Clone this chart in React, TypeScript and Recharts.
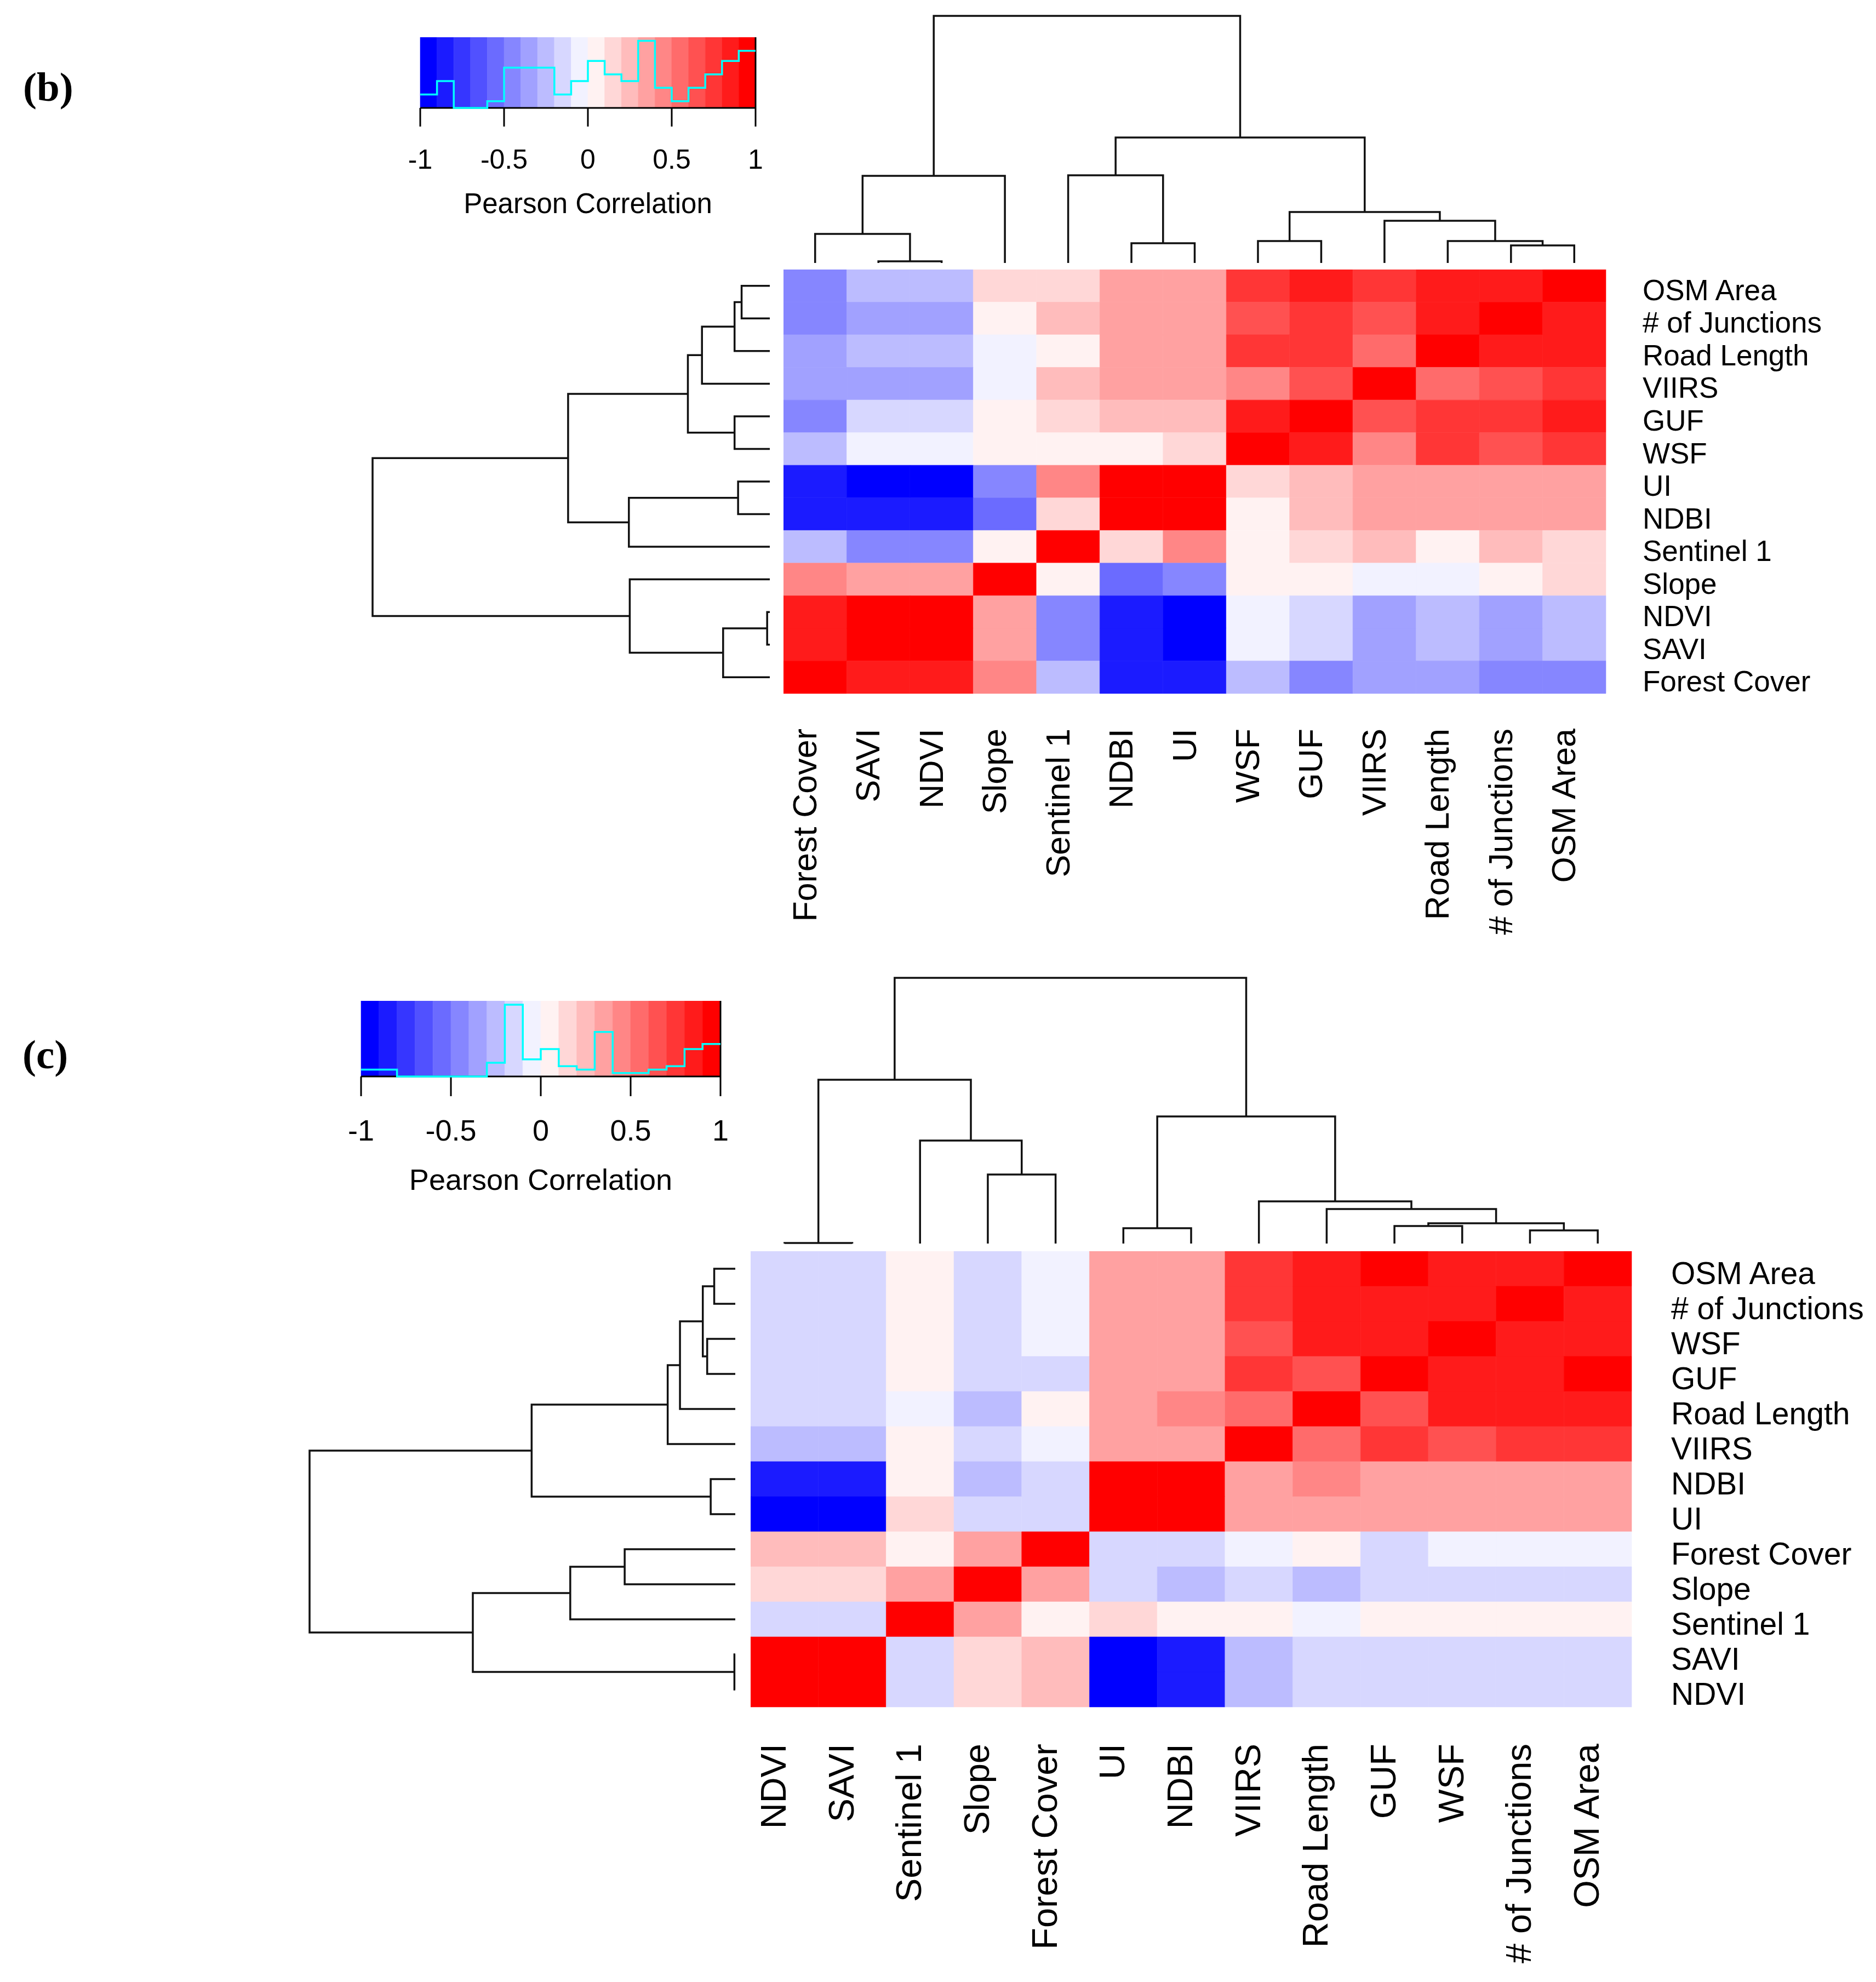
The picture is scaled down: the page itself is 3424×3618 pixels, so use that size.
import React from "react";
import { ScatterChart, Scatter, XAxis, YAxis, ReferenceArea, ReferenceLine } from "recharts";

// ---------- panel (b) ----------
const B_COLS = ["Forest Cover", "SAVI", "NDVI", "Slope", "Sentinel 1", "NDBI", "UI", "WSF", "GUF", "VIIRS", "Road Length", "# of Junctions", "OSM Area"];
const B_ROWS = ["OSM Area", "# of Junctions", "Road Length", "VIIRS", "GUF", "WSF", "UI", "NDBI", "Sentinel 1", "Slope", "NDVI", "SAVI", "Forest Cover"];
const B_VALUES = [
  [-0.45, -0.25, -0.25, 0.15, 0.15, 0.35, 0.35, 0.75, 0.85, 0.75, 0.85, 0.85, 0.95],
  [-0.45, -0.35, -0.35, 0.05, 0.25, 0.35, 0.35, 0.65, 0.75, 0.65, 0.85, 0.95, 0.85],
  [-0.35, -0.25, -0.25, -0.05, 0.05, 0.35, 0.35, 0.75, 0.75, 0.55, 0.95, 0.85, 0.85],
  [-0.35, -0.35, -0.35, -0.05, 0.25, 0.35, 0.35, 0.45, 0.65, 0.95, 0.55, 0.65, 0.75],
  [-0.45, -0.15, -0.15, 0.05, 0.15, 0.25, 0.25, 0.85, 0.95, 0.65, 0.75, 0.75, 0.85],
  [-0.25, -0.05, -0.05, 0.05, 0.05, 0.05, 0.15, 0.95, 0.85, 0.45, 0.75, 0.65, 0.75],
  [-0.85, -0.95, -0.95, -0.45, 0.45, 0.95, 0.95, 0.15, 0.25, 0.35, 0.35, 0.35, 0.35],
  [-0.85, -0.85, -0.85, -0.55, 0.15, 0.95, 0.95, 0.05, 0.25, 0.35, 0.35, 0.35, 0.35],
  [-0.25, -0.45, -0.45, 0.05, 0.95, 0.15, 0.45, 0.05, 0.15, 0.25, 0.05, 0.25, 0.15],
  [0.45, 0.35, 0.35, 0.95, 0.05, -0.55, -0.45, 0.05, 0.05, -0.05, -0.05, 0.05, 0.15],
  [0.85, 0.95, 0.95, 0.35, -0.45, -0.85, -0.95, -0.05, -0.15, -0.35, -0.25, -0.35, -0.25],
  [0.85, 0.95, 0.95, 0.35, -0.45, -0.85, -0.95, -0.05, -0.15, -0.35, -0.25, -0.35, -0.25],
  [0.95, 0.85, 0.85, 0.45, -0.25, -0.85, -0.85, -0.25, -0.45, -0.35, -0.35, -0.45, -0.45],
];
// hclust-like merges: a leaf is a label, a number refers to an earlier merge
const B_MERGES = [
  { a: "SAVI", b: "NDVI", h: 0.03 },
  { a: "Forest Cover", b: 0, h: 0.53 },
  { a: 1, b: "Slope", h: 1.59 },
  { a: "NDBI", b: "UI", h: 0.36 },
  { a: "Sentinel 1", b: 3, h: 1.6 },
  { a: "WSF", b: "GUF", h: 0.4 },
  { a: "# of Junctions", b: "OSM Area", h: 0.32 },
  { a: "Road Length", b: 6, h: 0.4 },
  { a: "VIIRS", b: 7, h: 0.77 },
  { a: 5, b: 8, h: 0.93 },
  { a: 4, b: 9, h: 2.29 },
  { a: 2, b: 10, h: 4.51 },
];
const B_HIST = [4, 8, 0, 0, 2, 12, 12, 12, 4, 8, 14, 10, 8, 20, 6, 2, 6, 10, 14, 17];

// ---------- panel (c) ----------
const C_COLS = ["NDVI", "SAVI", "Sentinel 1", "Slope", "Forest Cover", "UI", "NDBI", "VIIRS", "Road Length", "GUF", "WSF", "# of Junctions", "OSM Area"];
const C_ROWS = ["OSM Area", "# of Junctions", "WSF", "GUF", "Road Length", "VIIRS", "NDBI", "UI", "Forest Cover", "Slope", "Sentinel 1", "SAVI", "NDVI"];
const C_VALUES = [
  [-0.15, -0.15, 0.05, -0.15, -0.05, 0.35, 0.35, 0.75, 0.85, 0.95, 0.85, 0.85, 0.95],
  [-0.15, -0.15, 0.05, -0.15, -0.05, 0.35, 0.35, 0.75, 0.85, 0.85, 0.85, 0.95, 0.85],
  [-0.15, -0.15, 0.05, -0.15, -0.05, 0.35, 0.35, 0.65, 0.85, 0.85, 0.95, 0.85, 0.85],
  [-0.15, -0.15, 0.05, -0.15, -0.15, 0.35, 0.35, 0.75, 0.65, 0.95, 0.85, 0.85, 0.95],
  [-0.15, -0.15, -0.05, -0.25, 0.05, 0.35, 0.45, 0.55, 0.95, 0.65, 0.85, 0.85, 0.85],
  [-0.25, -0.25, 0.05, -0.15, -0.05, 0.35, 0.35, 0.95, 0.55, 0.75, 0.65, 0.75, 0.75],
  [-0.85, -0.85, 0.05, -0.25, -0.15, 0.95, 0.95, 0.35, 0.45, 0.35, 0.35, 0.35, 0.35],
  [-0.95, -0.95, 0.15, -0.15, -0.15, 0.95, 0.95, 0.35, 0.35, 0.35, 0.35, 0.35, 0.35],
  [0.25, 0.25, 0.05, 0.35, 0.95, -0.15, -0.15, -0.05, 0.05, -0.15, -0.05, -0.05, -0.05],
  [0.15, 0.15, 0.35, 0.95, 0.35, -0.15, -0.25, -0.15, -0.25, -0.15, -0.15, -0.15, -0.15],
  [-0.15, -0.15, 0.95, 0.35, 0.05, 0.15, 0.05, 0.05, -0.05, 0.05, 0.05, 0.05, 0.05],
  [0.95, 0.95, -0.15, 0.15, 0.25, -0.95, -0.85, -0.25, -0.15, -0.15, -0.15, -0.15, -0.15],
  [0.95, 0.95, -0.15, 0.15, 0.25, -0.95, -0.85, -0.25, -0.15, -0.15, -0.15, -0.15, -0.15],
];
const C_MERGES = [
  { a: "NDVI", b: "SAVI", h: 0.01 },
  { a: "Slope", b: "Forest Cover", h: 1.26 },
  { a: "Sentinel 1", b: 1, h: 1.88 },
  { a: 0, b: 2, h: 2.99 },
  { a: "UI", b: "NDBI", h: 0.28 },
  { a: "GUF", b: "WSF", h: 0.32 },
  { a: "# of Junctions", b: "OSM Area", h: 0.24 },
  { a: 5, b: 6, h: 0.37 },
  { a: "Road Length", b: 7, h: 0.63 },
  { a: "VIIRS", b: 8, h: 0.77 },
  { a: 4, b: 9, h: 2.32 },
  { a: 3, b: 10, h: 4.85 },
];
const C_HIST = [4, 4, 0, 0, 0, 0, 0, 8, 42, 10, 16, 6, 4, 26, 2, 2, 4, 6, 16, 19];

// ---------- colour key ----------
const KEY_BREAKS = [-1, -0.9, -0.8, -0.7, -0.6, -0.5, -0.4, -0.3, -0.2, -0.1, 0, 0.1, 0.2, 0.3, 0.4, 0.5, 0.6, 0.7, 0.8, 0.9, 1];
const KEY_TICKS = [-1, -0.5, 0, 0.5, 1];
const KEY_TITLE = "Pearson Correlation";

// colorRampPalette(c("blue", "white", "red"))(20)
const PALETTE = KEY_BREAKS.slice(1).map((_, i) => {
  const t = i / (KEY_BREAKS.length - 2);
  if (t <= 0.5) {
    const g = Math.round(510 * t);
    return `rgb(${g},${g},255)`;
  }
  const g = Math.round(510 * (1 - t));
  return `rgb(255,${g},${g})`;
});

function colorOf(v: number) {
  for (let i = 0; i < PALETTE.length; i++) {
    if (v < KEY_BREAKS[i + 1]) return PALETTE[i];
  }
  return PALETTE[PALETTE.length - 1];
}

const FONT = "'Liberation Sans', Arial, Helvetica, sans-serif";
const LINE = "#111";
const LW = 3.5;
const PAD = 8;

const LAYOUT_B = {
  heat: { x: 1430, y: 492, w: 1501, h: 774 },
  top: { x: 1430, y: 29, w: 1501, h: 451 },
  left: { x: 680, y: 492, w: 725, h: 774 },
  key: { x: 767, y: 68, w: 612, h: 129 },
  tickSize: 34, tickMargin: 41, keyFont: 50, titleFont: 51, titleBaseline: 389,
  rowFont: 53, colFont: 61, rowGap: 67, colGap: 64, bottom: 500,
  tag: { x: 42, y: 184, text: "(b)" },
};
const LAYOUT_C = {
  heat: { x: 1370, y: 2284, w: 1608, h: 832 },
  top: { x: 1370, y: 1785, w: 1608, h: 485 },
  left: { x: 565, y: 2284, w: 777, h: 832 },
  key: { x: 659, y: 1827, w: 656, h: 138 },
  tickSize: 36, tickMargin: 43, keyFont: 54, titleFont: 54, titleBaseline: 2172,
  rowFont: 57, colFont: 65, rowGap: 72, colGap: 67, bottom: 500,
  tag: { x: 41, y: 1950, text: "(c)" },
};

function dendroPaths(merges: any[], order: string[]) {
  const pos: number[] = [];
  const ht: number[] = [];
  const get = (n: any) =>
    typeof n === "string" ? { p: order.indexOf(n) + 0.5, h: 0 } : { p: pos[n], h: ht[n] };
  return merges.map((m, i) => {
    const A = get(m.a);
    const B = get(m.b);
    pos[i] = (A.p + B.p) / 2;
    ht[i] = m.h;
    return [
      { p: A.p, h: A.h },
      { p: A.p, h: m.h },
      { p: B.p, h: m.h },
      { p: B.p, h: B.h },
    ];
  });
}

const noDot = () => <g />;

function Dendrogram({ box, merges, order, side }: any) {
  const paths = dendroPaths(merges, order);
  const rootH = Math.max(...merges.map((m: any) => m.h));
  const isTop = side === "top";
  return (
    <div style={{ position: "absolute", left: box.x - PAD, top: box.y - PAD }}>
      <ScatterChart
        width={box.w + 2 * PAD}
        height={box.h + 2 * PAD}
        margin={{ top: PAD, right: PAD, bottom: PAD, left: PAD }}
      >
        {isTop ? (
          <XAxis type="number" dataKey="x" domain={[0, order.length]} hide />
        ) : (
          <XAxis type="number" dataKey="x" domain={[0, rootH]} reversed hide />
        )}
        {isTop ? (
          <YAxis type="number" dataKey="y" domain={[0, rootH]} hide />
        ) : (
          <YAxis type="number" dataKey="y" domain={[0, order.length]} reversed hide />
        )}
        {paths.map((pts, i) => (
          <Scatter
            key={i}
            data={pts.map((q) => (isTop ? { x: q.p, y: q.h } : { x: q.h, y: q.p }))}
            line={{ stroke: LINE, strokeWidth: LW }}
            lineType="joint"
            shape={noDot}
            isAnimationActive={false}
          />
        ))}
      </ScatterChart>
    </div>
  );
}

function Heatmap({ L, rows, cols, values }: any) {
  const box = L.heat;
  const right = 3424 - box.x - box.w;
  const cells: any[] = [];
  values.forEach((row: number[], r: number) =>
    row.forEach((v, c) => cells.push({ r, c, v }))
  );
  const colTick = (p: any) => {
    const label = cols[Math.floor(p.payload.value)];
    const x = p.x + 2;
    return (
      <text
        x={x}
        y={p.y}
        transform={`rotate(-90 ${x} ${p.y})`}
        textAnchor="end"
        fontSize={L.colFont}
        fill="#000"
        fontFamily={FONT}
      >
        {label}
      </text>
    );
  };
  const rowTick = (p: any) => (
    <text
      x={p.x}
      y={p.y}
      dy={L.rowFont * 0.36 + 7}
      textAnchor="start"
      fontSize={L.rowFont}
      fill="#000"
      fontFamily={FONT}
    >
      {rows[Math.floor(p.payload.value)]}
    </text>
  );
  return (
    <div style={{ position: "absolute", left: box.x, top: box.y }}>
      <ScatterChart
        width={box.w + right}
        height={box.h + L.bottom}
        margin={{ top: 0, right: 0, bottom: 0, left: 0 }}
      >
        <XAxis
          type="number"
          dataKey="x"
          domain={[0, cols.length]}
          ticks={cols.map((_: string, i: number) => i + 0.5)}
          interval={0}
          height={L.bottom}
          tickSize={0}
          tickMargin={L.colGap}
          axisLine={false}
          tickLine={false}
          tick={colTick}
        />
        <YAxis
          type="number"
          dataKey="y"
          orientation="right"
          reversed
          domain={[0, rows.length]}
          ticks={rows.map((_: string, i: number) => i + 0.5)}
          interval={0}
          width={right}
          tickSize={0}
          tickMargin={L.rowGap}
          axisLine={false}
          tickLine={false}
          tick={rowTick}
        />
        {cells.map((d) => (
          <ReferenceArea
            key={`${d.r}-${d.c}`}
            x1={d.c}
            x2={d.c + 1}
            y1={d.r}
            y2={d.r + 1}
            fill={colorOf(d.v)}
            fillOpacity={1}
            stroke={colorOf(d.v)}
            strokeWidth={0.6}
          />
        ))}
        <Scatter
          data={cells.map((d) => ({ x: d.c + 0.5, y: d.r + 0.5 }))}
          shape={noDot}
          isAnimationActive={false}
        />
      </ScatterChart>
    </div>
  );
}

function ColorKey({ L, hist }: any) {
  const box = L.key;
  const side = 80;
  const ymax = Math.max(...hist) / 0.95;
  const steps = hist.flatMap((n: number, i: number) => [
    { x: KEY_BREAKS[i], y: n },
    { x: KEY_BREAKS[i + 1], y: n },
  ]);
  const axisH = L.titleBaseline + 12 - (box.y + box.h);
  return (
    <div style={{ position: "absolute", left: box.x - side, top: box.y }}>
      <ScatterChart
        width={box.w + 2 * side}
        height={box.h + axisH}
        margin={{ top: 0, right: side, bottom: 0, left: side }}
      >
        <XAxis
          type="number"
          dataKey="x"
          domain={[-1, 1]}
          ticks={KEY_TICKS}
          interval={0}
          height={axisH}
          tickSize={L.tickSize}
          tickMargin={L.tickMargin}
          axisLine={{ stroke: "#000", strokeWidth: 3 }}
          tickLine={{ stroke: "#000", strokeWidth: 3 }}
          tick={{ fontSize: L.keyFont, fill: "#000", fontFamily: FONT }}
          label={{
            value: KEY_TITLE,
            position: "insideBottom",
            offset: 12,
            fontSize: L.titleFont,
            fill: "#000",
            fontFamily: FONT,
          }}
        />
        <YAxis type="number" dataKey="y" domain={[0, ymax]} hide />
        {PALETTE.map((col, i) => (
          <ReferenceArea
            key={i}
            x1={KEY_BREAKS[i]}
            x2={KEY_BREAKS[i + 1]}
            y1={0}
            y2={ymax}
            fill={col}
            fillOpacity={1}
            stroke={col}
            strokeWidth={0.6}
          />
        ))}
        <ReferenceLine x={1} stroke="#000" strokeWidth={3} />
        <Scatter
          data={steps}
          line={{ stroke: "#00FFFF", strokeWidth: 3.5 }}
          lineType="joint"
          shape={noDot}
          isAnimationActive={false}
        />
      </ScatterChart>
    </div>
  );
}

function Panel({ L, rows, cols, values, merges, hist }: any) {
  return (
    <>
      <svg
        style={{ position: "absolute", left: 0, top: L.tag.y - 100 }}
        width={200}
        height={140}
      >
        <text
          x={L.tag.x}
          y={100}
          fontSize={75}
          fontWeight="bold"
          fontFamily="'Liberation Serif', 'Times New Roman', serif"
          fill="#000"
        >
          {L.tag.text}
        </text>
      </svg>
      <ColorKey L={L} hist={hist} />
      <Dendrogram box={L.top} merges={merges} order={cols} side="top" />
      <Dendrogram box={L.left} merges={merges} order={rows} side="left" />
      <Heatmap L={L} rows={rows} cols={cols} values={values} />
    </>
  );
}

export default function App() {
  return (
    <div
      style={{
        position: "relative",
        width: 3424,
        height: 3618,
        background: "#fff",
        fontFamily: FONT,
        overflow: "hidden",
      }}
    >
      <style>{"body{margin:0;}"}</style>
      <Panel L={LAYOUT_B} rows={B_ROWS} cols={B_COLS} values={B_VALUES} merges={B_MERGES} hist={B_HIST} />
      <Panel L={LAYOUT_C} rows={C_ROWS} cols={C_COLS} values={C_VALUES} merges={C_MERGES} hist={C_HIST} />
    </div>
  );
}
